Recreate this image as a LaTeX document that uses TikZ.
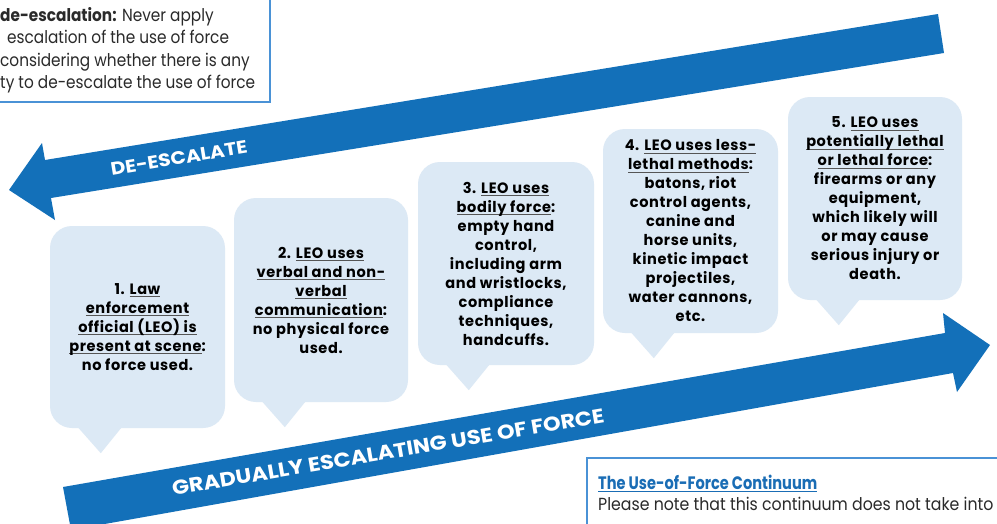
\documentclass[tikz,border=0pt]{standalone}
\usepackage{fontspec}
\setmainfont{Poppins}
\newfontfamily\futbook[FakeStretch=0.90]{Poppins}
\newfontfamily\futbooknar[FakeStretch=0.875]{Poppins}
\newfontfamily\futbold[FakeStretch=0.97,LetterSpace=4]{Poppins}
\newfontfamily\futwide[FakeStretch=1.12]{Poppins}
\newfontfamily\futcond[FakeStretch=0.81]{Poppins}
\definecolor{ablue}{HTML}{1370B9}
\definecolor{bfill}{HTML}{DCE9F5}
\definecolor{boxblue}{HTML}{4A92D6}
\definecolor{tblue}{HTML}{1A6DB5}
\definecolor{ulgray}{HTML}{555555}
\definecolor{txtgray}{HTML}{2A2A2A}
\newsavebox\ulbox
\newcommand\gul[1]{\sbox\ulbox{#1}\rlap{\textcolor{ulgray}{\rule[-2.8pt]{\wd\ulbox}{0.9pt}}}\usebox\ulbox}
\newcommand\bul[1]{\sbox\ulbox{#1}\rlap{\textcolor{tblue}{\rule[-2.6pt]{\wd\ulbox}{1pt}}}\usebox\ulbox}
\tikzset{
  bubble/.style={fill=bfill, rounded corners=22pt, inner sep=0pt, align=center,
    font=\futbold\bfseries\fontsize{15}{19}\selectfont, text=black},
  arrowtext/.style={text=white, inner sep=0pt},
  boxline/.style={draw=boxblue, line width=1.2pt},
  boxtext/.style={anchor=base west, inner sep=0pt, text=txtgray, font=\futbook\fontsize{17.5}{22}\selectfont},
  tltext/.style={boxtext, font=\futbooknar\fontsize{17.5}{22}\selectfont},
}
\begin{document}
\begin{tikzpicture}[x=1pt,y=-1pt]
\useasboundingbox (0,0) rectangle (997,523);
\clip (0,0) rectangle (997,523);
\fill[white] (0,0) rectangle (997,523);

% top-left box
\draw[boxline] (-5,-5) rectangle (270,102);
\node[tltext] (l1) at (0,21) {\textbf{de-escalation:} Never apply};
\node[tltext] (l2) at (7,43) {escalation of the use of force};
\node[tltext] (l3) at (0,66) {considering whether there is any};
\node[tltext] (l4) at (0,88) {ty to de-escalate the use of force};

% de-escalate arrow
\fill[ablue] (938,14) -- (944,53) -- (51,198) -- (55,220) -- (9,190) -- (42,143) -- (45,160) -- cycle;
\node[arrowtext, rotate=9.3, font=\futwide\bfseries\fontsize{18}{20}\selectfont] (de) at (179,158) {DE-ESCALATE};

% escalate arrow
\fill[ablue] (63,487) -- (945,333) -- (943,313) -- (990,345) -- (957,392) -- (953,373) -- (71,530) -- cycle;
\node[arrowtext, rotate=9.6, font=\futwide\bfseries\fontsize{20}{22}\selectfont] (esc) at (388,452) {GRADUALLY ESCALATING USE OF FORCE};

% bubbles
\node[bubble, minimum width=175pt, minimum height=202pt] (b1) at (137.5,327)
  {1. \gul{Law}\\ \gul{enforcement}\\ \gul{official (LEO) is}\\ \gul{present at scene}:\\ no force used.};
\node[bubble, minimum width=174pt, minimum height=204pt] (b2) at (321,300)
  {2. \gul{LEO uses}\\ \gul{verbal and non-}\\ \gul{verbal}\\ \gul{communication}:\\ no physical force\\ used.};
\node[bubble, minimum width=176pt, minimum height=203pt] (b3) at (506,263.5)
  {3. \gul{LEO uses}\\ \gul{bodily force}:\\ empty hand\\ control,\\ including arm\\ and wristlocks,\\ compliance\\ techniques,\\ handcuffs.};
\node[bubble, minimum width=175pt, minimum height=204pt] (b4) at (690.5,231)
  {4. \gul{LEO uses less-}\\ \gul{lethal methods}:\\ batons, riot\\ control agents,\\ canine and\\ horse units,\\ kinetic impact\\ projectiles,\\ water cannons,\\ etc.};
\node[bubble, minimum width=174pt, minimum height=203pt] (b5) at (875,198.5)
  {5. \gul{LEO uses}\\ \gul{potentially lethal}\\ \gul{or lethal force}:\\ firearms or any\\ equipment,\\ which likely will\\ or may cause\\ serious injury or\\ death.};
\foreach \b in {b1,b2,b3,b4,b5}{
  \fill[bfill] ([shift={(28,-1)}]\b.south west) -- ([shift={(72,-1)}]\b.south west) -- ([shift={(51,25)}]\b.south west) -- cycle;
}

% bottom-right box
\draw[boxline] (587,458) rectangle (1005,530);
\node[anchor=base west, inner sep=0pt, text=tblue, font=\futcond\bfseries\fontsize{18}{22}\selectfont] (title) at (598,489) {\bul{The Use-of-Force Continuum}};
\node[boxtext] (body) at (598,510) {Please note that this continuum does not take into};
\end{tikzpicture}
\end{document}
